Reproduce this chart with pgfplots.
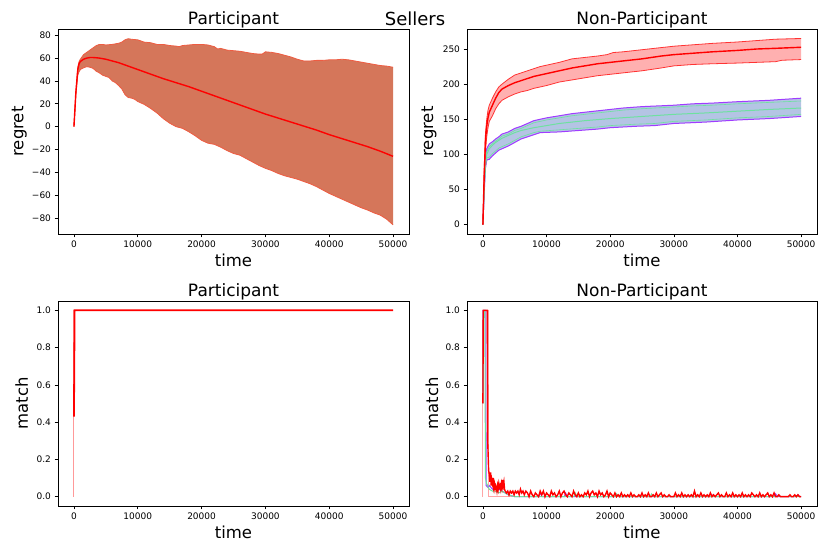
\documentclass[border=0pt]{standalone}
\usepackage{fontspec}
\setmainfont{DejaVu Sans}
\usepackage{pgfplots}
\pgfplotsset{compat=1.18}
\usepgfplotslibrary{fillbetween}
\definecolor{bandTL}{RGB}{213,118,90}
\definecolor{edgeTL}{RGB}{238,92,66}
\definecolor{redband}{RGB}{255,176,176}
\definecolor{blueband}{RGB}{180,196,228}
\definecolor{mypurple}{RGB}{160,60,255}
\definecolor{mygreen}{RGB}{110,225,160}
\pgfplotsset{
 mpl/.style={
  set layers,
  scale only axis, width=351pt, height=205pt, anchor=south west,
  xmin=-2500, xmax=52500,
  xtick={0,10000,20000,30000,40000,50000},
  scaled x ticks=false, scaled y ticks=false,
  /pgf/number format/assume math mode=true,
  /pgf/number format/1000 sep={},
  tick align=outside, xtick pos=lower, ytick pos=left,
  major tick length=3.5pt,
  tick style={black, line width=0.6pt},
  axis line style={black, line width=0.8pt},
  ticklabel style={font=\fontsize{9}{9}\selectfont},
  every axis title/.style={at={(axis description cs:0.5,1)}, anchor=base, yshift=4pt, font=\fontsize{17}{17}\selectfont},
  every axis x label/.style={at={(axis description cs:0.5,0)}, anchor=base, yshift=-33pt, font=\fontsize{16.5}{16.5}\selectfont},
  clip=true,
 },
 mpllabel/.style={every axis y label/.style={at={(axis description cs:#1,0.5)}, rotate=90, anchor=base, font=\fontsize{16.5}{16.5}\selectfont}},
}
\begin{document}
\begin{tikzpicture}
\node[font=\fontsize{18}{18}\selectfont, anchor=base] at (415pt,528pt) {Sellers};

% ---------- top left ----------
\begin{axis}[mpl, at={(58pt,320pt)}, mpllabel=-0.0983,
  ymin=-94, ymax=85.5,
  ytick={-80,-60,-40,-20,0,20,40,60,80},
  yticklabels={−80,−60,−40,−20,0,20,40,60,80},
  title={Participant}, xlabel={time}, ylabel={regret}]
\addplot[name path=tlu, edgeTL, line width=0.8pt] coordinates {
(0,0)(300,30)(600,52)(800,57)(1000,59)(1500,63)(2000,65)(2500,67)(3000,69)(3500,71)(4000,72)(4500,72)(5000,71.5)(6000,72)(7000,73)(7500,74)(8000,76)(8500,77)(9000,76.5)(10000,76)(10500,75)(11000,74)(12000,73.5)(13000,72)(14000,72)(15000,71)(16000,70.5)(16500,70)(17000,71)(18000,71.5)(19000,72)(20000,72)(21000,71.5)(22000,70)(22500,68)(23000,68.5)(24000,67)(25000,66.5)(26000,66)(27000,65)(28000,64)(29000,63.5)(29500,63.5)(30000,65.5)(31000,65)(32000,64)(33000,62.5)(34000,61)(35000,59)(36000,57.5)(37000,57.5)(38000,58)(39000,58)(40000,58.5)(41000,58.5)(42000,59)(43000,58.5)(44000,57.5)(45000,56.5)(46000,55.5)(47000,54.5)(48000,53.5)(49000,53)(50000,52)};
\addplot[name path=tll, edgeTL, line width=0.8pt] coordinates {
(0,0)(300,28)(600,45)(800,48)(1000,50)(1500,51.5)(2000,52.5)(2500,52)(3000,51)(3500,48.5)(4000,47)(4500,45)(5000,44)(5500,43)(6000,40)(6500,38.5)(7000,36)(7500,33)(8000,28)(8500,25.5)(9000,25)(9500,24)(10000,22)(11000,19.5)(12000,16)(13000,12)(14000,7)(15000,3)(16000,0)(17000,-1.5)(18000,-4.5)(19000,-8)(20000,-12)(21000,-14.5)(22000,-15.5)(23000,-18)(24000,-21)(25000,-23.5)(26000,-25)(27000,-28)(28000,-31)(29000,-34)(30000,-36.5)(31000,-38.5)(32000,-41)(33000,-43)(34000,-44.5)(35000,-46)(36000,-48)(37000,-50)(38000,-52.5)(39000,-55.5)(40000,-58.5)(41000,-61)(42000,-63.5)(43000,-66)(44000,-68.5)(45000,-71)(46000,-73)(47000,-75.5)(48000,-77.5)(49000,-81)(50000,-86)};
\addplot[bandTL] fill between[of=tlu and tll];
\addplot[red, line width=1.4pt] coordinates {
(0,0)(300,30)(600,50)(800,55)(1000,57)(1500,59)(2000,60)(2500,60.5)(3000,60.5)(3500,60.3)(4000,60)(5000,59)(6000,57.5)(7000,56)(8000,54)(9000,52)(10000,50)(12000,46)(14000,42)(16000,38.5)(18000,35)(20000,31)(22000,27)(24000,23)(26000,19)(28000,15)(30000,11)(32000,7.5)(34000,4)(36000,0.5)(38000,-3)(40000,-7)(42000,-10.5)(44000,-14)(46000,-17.5)(48000,-21.5)(50000,-26)};
\end{axis}

% ---------- top right ----------
\begin{axis}[mpl, at={(467pt,320pt)}, width=350pt, mpllabel=-0.097,
  ymin=-13.3, ymax=278.5,
  ytick={0,50,100,150,200,250},
  title={Non-Participant}, xlabel={time}, ylabel={regret}]
\addplot[name path=pu, mypurple, line width=1pt] coordinates {
(0,0)(200,55)(400,95)(600,108)(1000,115)(1500,118)(2000,122)(2500,125)(3000,129)(4000,132)(5000,137)(6000,140)(7000,144)(8000,148)(10000,152)(12000,155)(14000,158)(16000,160)(18000,162)(20000,164)(22000,166)(25000,168)(30000,170)(33000,172)(36000,173)(40000,175)(45000,177)(50000,180)};
\addplot[name path=pl, mypurple, line width=1pt] coordinates {
(0,0)(200,45)(400,80)(600,92)(1000,93)(1500,98)(2000,102)(2500,106)(3000,108)(4000,112)(5000,117)(6000,122)(7000,125)(8000,128)(9000,131)(12000,132)(15000,134)(18000,136)(20000,138)(24000,140)(27000,141)(28000,142)(30000,144)(35000,146)(40000,149)(45000,151)(50000,154)};
\addplot[blueband] fill between[of=pu and pl];
\addplot[mygreen, line width=0.6pt] coordinates {
(0,0)(200,52)(400,90)(600,104)(1000,111)(1500,115)(2000,119)(2500,122)(3000,126)(4000,129)(5000,134)(6000,137)(7000,141)(8000,145)(10000,149)(12000,152)(14000,155)(16000,157)(18000,159)(20000,161)(22000,163)(25000,165)(30000,167.5)(33000,169)(36000,170)(40000,172)(45000,174)(50000,176)};
\addplot[mygreen, line width=0.6pt] coordinates {
(0,0)(200,47)(400,83)(600,95)(1000,96)(1500,101)(2000,105)(2500,109)(3000,111)(4000,115)(5000,120)(6000,125)(7000,128)(8000,131)(9000,133)(12000,135)(15000,137)(18000,139)(20000,141)(24000,143)(27000,144)(28000,145)(30000,147)(35000,149)(40000,152)(45000,154)(50000,157)};
\addplot[mygreen, line width=1pt] coordinates {
(0,0)(200,50)(400,85)(600,100)(1000,108)(1500,113)(2000,117)(2500,120)(3000,123)(4000,127)(5000,131)(6000,134)(7000,136)(8000,138)(10000,141)(12000,144)(14000,146)(16000,148)(20000,151)(25000,154)(30000,157)(35000,159)(40000,161.5)(45000,164)(50000,166)};
\addplot[name path=ru, red!80, line width=0.8pt] coordinates {
(0,0)(200,78)(400,130)(600,150)(800,163)(1000,170)(1500,180)(2000,189)(2500,196)(3000,200)(4000,207)(5000,213)(6000,216)(7000,219)(8000,222)(9000,225)(10000,227)(12000,231)(14000,236)(16000,238)(18000,240)(19500,242)(20500,245)(22000,246)(25000,249)(28000,252)(30000,254)(33000,256)(36000,258)(40000,260)(43000,262)(46000,264)(50000,265)};
\addplot[name path=rl, red!80, line width=0.8pt] coordinates {
(0,0)(200,60)(400,105)(600,125)(800,138)(1000,147)(1500,155)(2000,165)(2500,172)(3000,177)(4000,182)(5000,186)(6000,189)(7000,191)(8000,194)(9000,196)(10000,198)(12000,203)(14000,206)(16000,209)(18000,212)(20000,214)(23000,217)(25000,219)(28000,223)(30000,226)(33000,228)(36000,229)(40000,230)(43000,231)(46000,232)(47000,234)(50000,235)};
\addplot[redband] fill between[of=ru and rl];
\addplot[red, line width=1.4pt] coordinates {
(0,0)(200,70)(400,120)(600,140)(800,152)(1000,160)(1500,170)(2000,180)(2500,188)(3000,193)(4000,198)(5000,202)(6000,205)(7000,208)(8000,211)(10000,215)(12000,219)(14000,223)(16000,226)(18000,229)(20000,231)(22000,233)(25000,236)(28000,240)(30000,242)(33000,244)(36000,246)(40000,248)(43000,250)(46000,251)(50000,252.5)};
\end{axis}

% ---------- bottom left ----------
\begin{axis}[mpl, at={(58pt,48pt)}, mpllabel=-0.0855,
  ymin=-0.05, ymax=1.05,
  ytick={0,0.2,0.4,0.6,0.8,1.0},
  yticklabel style={/pgf/number format/.cd, fixed, fixed zerofill, precision=1},
  title={Participant}, xlabel={time}, ylabel={match}]
\addplot[red!40, line width=1pt] coordinates {(0,0)(0,1)};
\addplot[red, line width=1.8pt] coordinates {(0,0.43)(100,1)(50000,1)};
\end{axis}

% ---------- bottom right ----------
\begin{axis}[mpl, at={(467pt,48pt)}, width=350pt, mpllabel=-0.0825,
  ymin=-0.05, ymax=1.05,
  ytick={0,0.2,0.4,0.6,0.8,1.0},
  yticklabel style={/pgf/number format/.cd, fixed, fixed zerofill, precision=1},
  title={Non-Participant}, xlabel={time}, ylabel={match}]
\addplot[red!35, line width=1pt] coordinates {(0,0)(0,1)(800,1)(800,0)(50000,0)};
\addplot[mypurple, line width=1pt] coordinates {
(0,0.5)(50,1)(450,1)(500,0.06)(800,0.05)(1000,0.06)(1500,0.04)(2000,0.05)(2500,0.04)(3000,0.03)(3500,0.02)(4000,0.01)(5000,0)(8800,0)(9000,0.02)(9300,0)(12800,0)(13000,0.02)(13300,0)(20800,0)(21000,0.01)(21300,0)(35800,0)(36000,0.01)(36300,0)(45800,0)(46000,0.015)(46300,0)(49200,0)(49500,0.01)(49800,0)(50000,0)};
\addplot[mygreen, line width=1pt] coordinates {
(0,0.5)(100,1)(300,1)(400,0.1)(600,0.07)(1000,0.04)(1500,0.03)(2000,0.03)(2500,0.02)(3000,0.03)(3500,0.02)(4000,0.01)(5000,0)(14300,0)(14500,0.02)(14800,0)(20800,0)(21000,0.015)(21300,0)(26300,0)(26500,0.015)(26800,0)(46300,0)(46500,0.01)(46800,0)(50000,0)};
\addplot[red, line width=1.4pt] coordinates {
(0,0.5)(50,1)(700,1)(750,0.3)(900,0.14)(1000,0.12)(1100,0.08)(1200,0.13)(1300,0.06)(1400,0.09)(1500,0.07)(1600,0.1)(1700,0.05)(1800,0.07)(1900,0.04)(2000,0.06)(2100,0.05)(2200,0.03)(2300,0.06)(2400,0.04)(2500,0.07)(2600,0.05)(2700,0.06)(2800,0.04)(2900,0.07)(3000,0.05)(3100,0.09)(3200,0.06)(3300,0.08)(3400,0.04)(3500,0.03)(3700,0.02)(3900,0.03)(4100,0.01)(4300,0.03)(4500,0.02)(4700,0.03)(4900,0.01)(5100,0.03)(5300,0.02)(5500,0.03)(5700,0.01)(5900,0.04)(6100,0.02)(6300,0.03)(6500,0.01)(6750,0.03)
(7000,0.02)(7250,0)(7500,0.03)(7750,0.01)(8000,0)(8250,0.02)(8500,0.01)(8750,0)(9000,0.03)(9250,0.01)(9500,0.03)(9750,0)(10000,0.02)(10250,0.01)(10500,0)(10750,0.03)(11000,0.01)(11250,0.02)(11500,0)(11750,0.01)(12000,0.03)(12250,0)(12500,0.02)(12750,0.03)(13000,0.01)(13250,0)(13500,0.02)(13750,0.01)(14000,0)(14250,0.03)(14500,0.01)(14750,0)(15000,0.02)(15250,0)(15500,0.01)(15750,0)(16000,0.02)(16250,0.01)(16500,0.03)(16750,0)(17000,0.02)(17250,0.03)(17500,0.01)(17750,0.02)(18000,0)(18250,0.03)(18500,0.01)(18750,0.02)(19000,0)(19250,0.01)(19500,0.03)(19750,0)(20000,0.02)(20250,0.01)(20500,0)(20750,0.02)(21000,0)(21250,0.01)(21500,0)(21750,0.02)(22000,0)(22250,0.01)(22500,0)(22750,0.01)(23000,0)(23250,0.02)(23500,0)(23750,0.01)(24000,0)(24250,0)(24500,0.01)(24750,0)(25000,0.02)(25250,0)(25500,0.01)(25750,0)(26000,0.02)(26250,0)(26500,0)(26750,0.01)(27000,0)(27250,0.02)(27500,0)(27750,0.01)(28000,0.02)(28250,0)(28500,0.01)(28750,0)(29000,0)(29250,0.01)(29500,0)(29750,0)(30000,0)(30250,0.02)(30500,0)(30750,0.01)(31000,0)(31250,0.02)(31500,0)(31750,0.01)(32000,0)(32250,0.01)(32500,0)(32750,0.01)(33000,0)(33250,0.03)(33500,0)(33750,0.01)(34000,0)(34250,0.02)(34500,0)(34750,0.01)(35000,0)(35250,0.01)(35500,0)(35750,0.02)(36000,0)(36250,0.01)(36500,0)(36750,0.01)(37000,0.02)(37250,0)(37500,0.01)(37750,0)(38000,0)(38250,0.02)(38500,0)(38750,0.01)(39000,0)(39250,0.02)(39500,0)(39750,0.01)(40000,0)(40250,0.01)(40500,0)(40750,0.02)(41000,0)(41250,0.01)(41500,0)(41750,0.01)(42000,0)(42250,0.02)(42500,0.01)(42750,0)(43000,0.01)(43250,0)(43500,0.02)(43750,0)(44000,0.01)(44250,0)(44500,0.01)(44750,0.02)(45000,0)(45250,0.01)(45500,0)(45750,0.02)(46000,0)(46250,0)(46500,0.01)(46750,0)(47000,0)(47250,0)(47500,0)(47750,0)(48000,0)(48250,0.01)(48500,0)(48750,0)(49000,0.01)(49250,0)(49500,0.01)(49750,0)(50000,0)};
\end{axis}
\pgfresetboundingbox
\path[use as bounding box] (0,0) rectangle (830pt,554pt);
\end{tikzpicture}
\end{document}
